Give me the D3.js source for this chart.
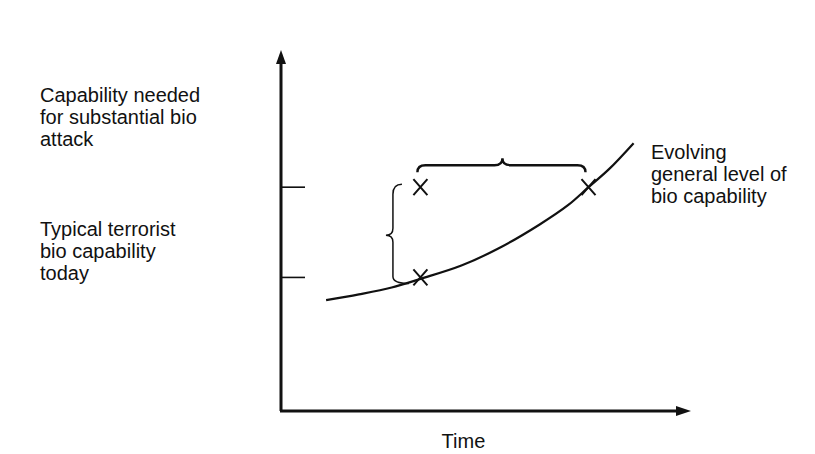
<!DOCTYPE html>
<html>
<head>
<meta charset="utf-8">
<script src="https://cdn.jsdelivr.net/npm/d3@7"></script>
<style>
  html, body { margin: 0; padding: 0; background: #fff; }
  svg { display: block; }
  text { font-family: "Liberation Sans", Arial, sans-serif; fill: #111; }
</style>
</head>
<body>
<svg id="chart" width="815" height="454"></svg>
<script>
// ---- data ----
const curveTime = [11, 19, 27, 34, 44, 53, 63, 70, 75, 80, 86];
const curveLevel = [30.7, 32.3, 34.2, 36.6, 40.3, 45, 51.6, 57, 62, 67, 74.2];
const levelNames = ["needed", "today"];
const levelValues = [62, 37];
const markTime = [34, 34, 75];
const markLevel = [62, 37, 62];
const leftLabels = [
  ["Capability needed", "for substantial bio", "attack"],
  ["Typical terrorist", "bio capability", "today"]
];
const curveLabel = ["Evolving", "general level of", "bio capability"];
const xAxisTitle = "Time";

// ---- scales ----
const svg = d3.select("#chart");
const x = d3.scaleLinear().domain([0, 100]).range([281, 691]);
const y = d3.scaleLinear().domain([0, 100]).range([411, 50]);

const ink = "#111";

// axes (no ticks; arrows)
const axisG = svg.append("g");
axisG.append("line")
  .attr("x1", x(0)).attr("y1", y(0)).attr("x2", x(0)).attr("y2", y(100) + 8)
  .attr("stroke", ink).attr("stroke-width", 3);
axisG.append("line")
  .attr("x1", x(0) - 1).attr("y1", y(0)).attr("x2", x(100) - 8).attr("y2", y(0))
  .attr("stroke", ink).attr("stroke-width", 3);
// arrowheads
axisG.append("path")
  .attr("d", `M${x(0)},${y(100)} L${x(0) - 5},${y(100) + 14} L${x(0) + 5},${y(100) + 14} Z`)
  .attr("fill", ink);
axisG.append("path")
  .attr("d", `M${x(100)},${y(0)} L${x(100) - 15},${y(0) - 5} L${x(100) - 15},${y(0) + 5} Z`)
  .attr("fill", ink);

// level ticks
svg.append("g").selectAll("line").data(levelValues).join("line")
  .attr("x1", x(0)).attr("x2", x(0) + 24)
  .attr("y1", d => y(d)).attr("y2", d => y(d))
  .attr("stroke", ink).attr("stroke-width", 1.6);

// curve
const pts = curveTime.map((t, i) => [t, curveLevel[i]]);
svg.append("path")
  .datum(pts)
  .attr("d", d3.line().x(d => x(d[0])).y(d => y(d[1])).curve(d3.curveCatmullRom))
  .attr("fill", "none").attr("stroke", ink).attr("stroke-width", 2.2);

// X marks
const sx = 7, sy = 8;
const marks = svg.append("g");
markTime.forEach((t, i) => {
  const cx = x(t), cy = y(markLevel[i]);
  marks.append("path")
    .attr("d", `M${cx - sx},${cy - sy} L${cx + sx},${cy + sy} M${cx + sx},${cy - sy} L${cx - sx},${cy + sy}`)
    .attr("stroke", ink).attr("stroke-width", 2).attr("fill", "none");
});

// vertical brace (between the two levels, left of the marks)
{
  const bx = x(27.3);
  const top = y(levelValues[0]), bot = y(levelValues[1]) + 6;
  const mid = (top + bot) / 2;
  const r = 7;
  const d = `M${bx + 9},${top - 3} Q${bx},${top - 3} ${bx},${top + r}` +
            ` L${bx},${mid - r} Q${bx},${mid} ${bx - 7},${mid}` +
            ` Q${bx},${mid} ${bx},${mid + r}` +
            ` L${bx},${bot - r} Q${bx},${bot} ${bx + 16},${bot}`;
  svg.append("path").attr("d", d).attr("fill", "none")
    .attr("stroke", ink).attr("stroke-width", 1.5);
}

// horizontal brace (between the two times, above the needed level)
{
  const x1 = x(markTime[0]) - 3, x2 = x(markTime[2]) - 3;
  const by = y(levelValues[0]) - 22;
  const mx = (x1 + x2) / 2 + 1;
  const r = 8;
  const d = `M${x1},${by + 7} Q${x1},${by} ${x1 + r},${by}` +
            ` L${mx - r},${by} Q${mx},${by} ${mx},${by - 7}` +
            ` Q${mx},${by} ${mx + r},${by}` +
            ` L${x2 - r},${by} Q${x2},${by} ${x2},${by + 7}`;
  svg.append("path").attr("d", d).attr("fill", "none")
    .attr("stroke", ink).attr("stroke-width", 2.4);
}

// left labels
const leftTop = [102, 236];
leftLabels.forEach((lines, gi) => {
  const t = svg.append("text").attr("x", 40).attr("y", leftTop[gi])
    .attr("font-size", 20);
  lines.forEach((ln, li) => {
    t.append("tspan").attr("x", 40).attr("dy", li === 0 ? 0 : 22).text(ln);
  });
});

// curve label
{
  const t = svg.append("text").attr("x", 651).attr("y", 159).attr("font-size", 20);
  curveLabel.forEach((ln, li) => {
    t.append("tspan").attr("x", 651).attr("dy", li === 0 ? 0 : 22).text(ln);
  });
}

// x-axis title
svg.append("text").attr("x", x(44.5)).attr("y", 448)
  .attr("text-anchor", "middle").attr("font-size", 20).text(xAxisTitle);
</script>
</body>
</html>
